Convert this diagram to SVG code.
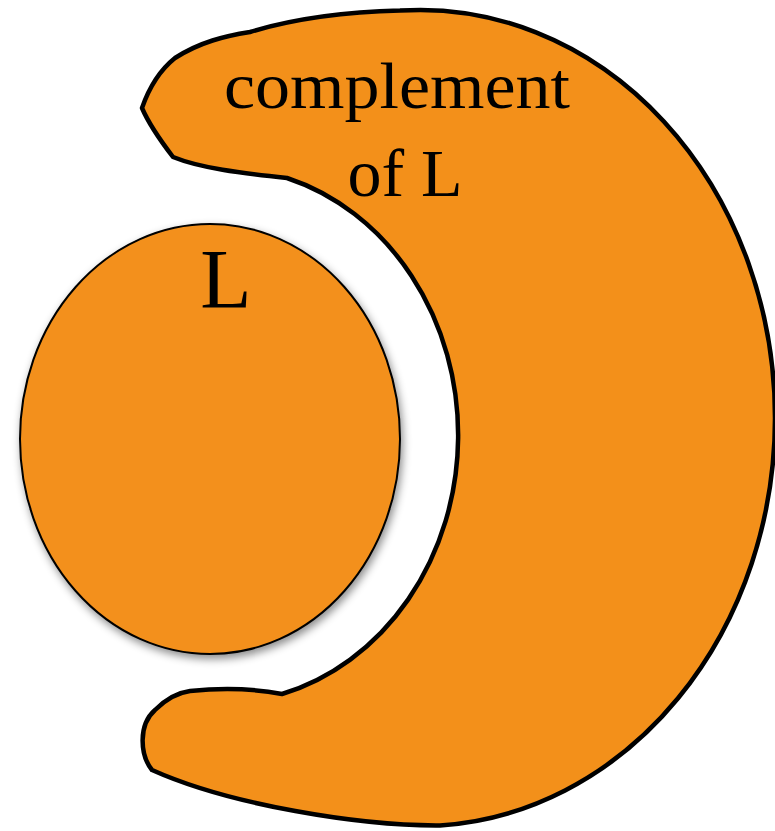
<svg xmlns="http://www.w3.org/2000/svg" width="775" height="831" viewBox="0 0 775 831">
<style>
.shape{fill:#F3901A;stroke:#000;stroke-linejoin:round}
.lbl{font-family:"Liberation Serif","Times New Roman",serif;fill:#000}
</style>
<defs>
<filter id="sh" x="-10%" y="-10%" width="125%" height="125%">
<feDropShadow dx="2" dy="4" stdDeviation="4" flood-color="#000" flood-opacity="0.45"/>
</filter>
</defs>
<rect width="775" height="831" fill="#fff"/>
<g id="complement">
<path class="shape" stroke-width="4.5" d="M 250 32 C 290 20, 340 12, 400 10.6 A 355 408 0 0 1 775 418 A 355 408 0 0 1 440 825.4 C 360 826, 230 805, 152 770 C 140 755, 138 725, 155 710 C 165 700, 175 693, 190 691 Q 240 686, 282 694 A 238 268 0 0 0 287 178 C 240 173, 200 168, 173 157 C 160 140, 148 122, 142 108 C 150 85, 160 70, 175 58 C 200 42, 225 36, 250 32 Z"/>
<text class="lbl" x="397" y="108" font-size="66" text-anchor="middle" textLength="346" lengthAdjust="spacingAndGlyphs">complement</text>
<text class="lbl" x="405" y="196" font-size="68" text-anchor="middle">of L</text>
</g>
<g id="L">
<ellipse class="shape" cx="210" cy="439" rx="190" ry="215" stroke-width="2" filter="url(#sh)"/>
<text class="lbl" x="226" y="308" font-size="84" text-anchor="middle">L</text>
</g>
<g id="connectors"/>
</svg>
